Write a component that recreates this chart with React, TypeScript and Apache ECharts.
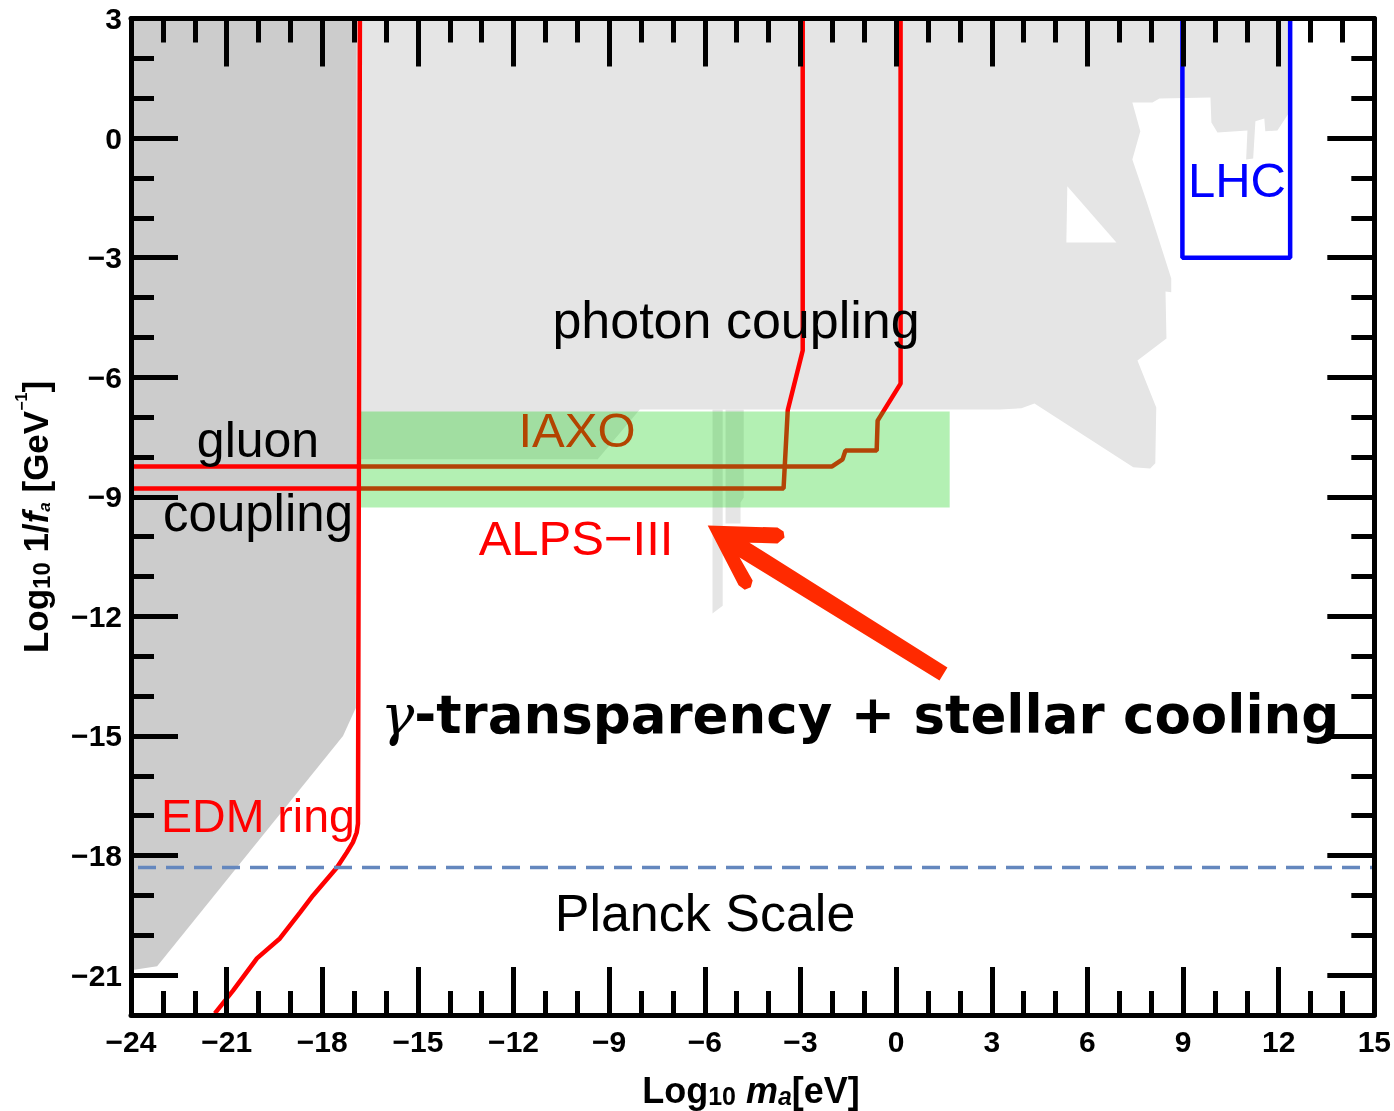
import React, { useEffect, useRef } from 'react';
import * as echarts from 'echarts';

// axis ranges and ticks
const X_MIN = -24;
const X_MAX = 15;
const Y_MIN = -22;
const Y_MAX = 3;
const yMajorTicks = [-21, -18, -15, -12, -9, -6, -3, 0, 3];
const yMinorTicks = [-22, -20, -19, -17, -16, -14, -13, -11, -10, -8, -7, -5, -4, -2, -1, 1, 2];

// excluded regions (log10 m_a, log10 1/f_a)
const photonRegion = [
  [-16.92, 3], [12.33, 3], [12.33, 0.64], [11.96, 0.19], [11.58, 0.17], [11.55, 0.49], [11.27, 0.42],
  [11.2, -0.51], [10.98, -0.54], [11.02, 0.19], [10.08, 0.14], [9.89, 0.39], [9.86, 1.02], [8.26, 0.99],
  [8.04, 0.89], [7.41, 0.89], [7.66, 0.17], [7.41, -0.54], [7.85, -1.57], [8.63, -3.52], [8.63, -3.87],
  [8.45, -3.85], [8.48, -5.03], [7.57, -5.58], [8.16, -6.76], [8.13, -8.16], [7.97, -8.29], [7.44, -8.26],
  [4.34, -6.66], [3.93, -6.78], [3.24, -6.81], [-8.04, -6.81], [-9.36, -8.06], [-16.92, -8.06],
];
const photonStripA = [[-5.76, -6.81], [-5.44, -6.81], [-5.44, -11.73], [-5.76, -11.93]];
const photonStripB = [[-5.35, -6.81], [-4.78, -6.81], [-4.78, -9.02], [-4.88, -9.14], [-4.88, -9.67], [-5.35, -9.67]];
const photonHole = [[5.37, -1.21], [6.91, -2.62], [5.34, -2.62]];
const gluonRegion = [[-24, 3], [-16.92, 3], [-16.95, -14.3], [-17.35, -15.0], [-23.18, -20.78], [-24, -20.88]];

// sensitivity curves
const alpsCurveA = [[-2.93, 3], [-2.93, -5.33], [-3.4, -6.83], [-3.53, -8.79], [-24, -8.79]];
const alpsCurveB = [[0.14, 3], [0.14, -6.16], [-0.58, -7.09], [-0.61, -7.84], [-1.59, -7.84], [-1.68, -8.06], [-2.02, -8.24], [-24, -8.24]];
const edmCurve = [
  [-16.82, 3], [-16.88, -17.2], [-16.92, -17.42], [-17.04, -17.67], [-17.23, -17.92], [-17.54, -18.3],
  [-18.29, -19.0], [-18.7, -19.43], [-19.33, -20.08], [-20.05, -20.58], [-20.8, -21.39], [-21.37, -21.96],
];
const iaxoBand = [[-16.85, -6.86], [1.68, -6.86], [1.68, -9.27], [-16.85, -9.27]];
const lhcBox = [[8.98, 3], [8.98, -3], [12.36, -3], [12.36, 3]];
const planckLine = [[-23.78, -18.3], [15, -18.3]];
const arrowShape = [
  [-5.91, -9.72], [-3.72, -9.77], [-3.53, -9.87], [-3.5, -10.02], [-3.72, -10.17], [-4.6, -10.15],
  [1.61, -13.28], [1.36, -13.61], [-4.91, -10.52], [-4.5, -11.1], [-4.56, -11.27], [-4.75, -11.33], [-4.94, -11.22],
];

const SANS = 'Liberation Sans, Arial, Helvetica, sans-serif';

function polygonSeries(polys: number[][][], fill: string, z: number) {
  return {
    type: 'custom',
    z,
    silent: true,
    coordinateSystem: 'cartesian2d',
    xAxisIndex: 0,
    yAxisIndex: 0,
    data: [[polys[0][0][0], polys[0][0][1]]],
    renderItem: (_params: any, api: any) => ({
      type: 'group',
      children: polys.map((p) => ({
        type: 'polygon',
        shape: { points: p.map((pt) => api.coord(pt)) },
        style: { fill },
      })),
    }),
  };
}

function lineSeries(data: number[][], color: string, width: number, z: number, type: any = 'solid') {
  return {
    type: 'line',
    z,
    silent: true,
    data,
    showSymbol: false,
    symbol: 'none',
    lineStyle: { color, width, type },
    xAxisIndex: 0,
    yAxisIndex: 0,
  };
}

const fmt = (v: number) => (v < 0 ? '\u2212' + Math.abs(v) : String(v));

function label(text: string, x: number, y: number, size: number, fill: string) {
  return { type: 'text', x, y, z: 20, style: { text, font: `${size}px ${SANS}`, fill, align: 'center', verticalAlign: 'middle' } };
}

export default function App() {
  const ref = useRef<HTMLDivElement>(null);
  useEffect(() => {
    if (!ref.current) return;
    const chart = echarts.init(ref.current, undefined, { renderer: 'svg' });
    const axisLine = { show: true, onZero: false, lineStyle: { color: '#000', width: 5 } };
    const noLine = { show: false, onZero: false };
    const labelStyle = { fontFamily: SANS, fontWeight: 'bold', fontSize: 30, color: '#000' };
    const tickStyle = { color: '#000', width: 5 };
    const baseX = {
      type: 'value', min: X_MIN, max: X_MAX, interval: 3, z: 10,
      axisLine, splitLine: { show: false },
      axisTick: { show: true, inside: true, length: 48, lineStyle: tickStyle },
      minorTick: { show: true, splitNumber: 3, length: 24, lineStyle: tickStyle },
      minorSplitLine: { show: false },
    };
    const baseY = { type: 'value', min: Y_MIN, max: Y_MAX, z: 10, splitLine: { show: false } };
    const majorTick = { show: true, inside: true, length: 47, customValues: yMajorTicks, lineStyle: tickStyle };
    const minorTick = { show: true, inside: true, length: 23, customValues: yMinorTicks, lineStyle: tickStyle };
    const bold = (size: number, lh: number, va: string, italic = false) => ({
      fontFamily: SANS, fontWeight: 'bold', fontStyle: italic ? 'italic' : 'normal', fontSize: size, lineHeight: lh, verticalAlign: va, fill: '#000',
    });
    const option: any = {
      animation: false,
      grid: { left: 131, top: 18.5, width: 1244, height: 996.5, containLabel: false },
      xAxis: [
        { ...baseX, position: 'bottom', axisLabel: { ...labelStyle, margin: 11, formatter: fmt } },
        { ...baseX, position: 'top', axisLabel: { show: false } },
      ],
      yAxis: [
        { ...baseY, position: 'left', axisLine, axisTick: majorTick, axisLabel: { ...labelStyle, margin: 9, customValues: yMajorTicks, formatter: fmt } },
        { ...baseY, position: 'left', axisLine: noLine, axisTick: minorTick, axisLabel: { show: false } },
        { ...baseY, position: 'right', axisLine, axisTick: majorTick, axisLabel: { show: false } },
        { ...baseY, position: 'right', axisLine: noLine, axisTick: minorTick, axisLabel: { show: false } },
      ],
      series: [
        polygonSeries([photonRegion, photonStripA, photonStripB], '#e5e5e5', 1),
        polygonSeries([photonHole], '#ffffff', 2),
        polygonSeries([gluonRegion], '#cccccc', 2),
        lineSeries(alpsCurveA, '#ff0000', 4.5, 3),
        lineSeries(alpsCurveB, '#ff0000', 4.5, 3),
        polygonSeries([iaxoBand], 'rgba(21,209,21,0.325)', 4),
        lineSeries(edmCurve, '#ff0000', 4.5, 5),
        lineSeries(lhcBox, '#0000ff', 4.5, 5),
        lineSeries(planckLine, '#6487be', 3.5, 5, [18, 10]),
        polygonSeries([arrowShape], '#ff2a00', 6),
      ],
      graphic: [
        label('photon coupling', 736, 320, 52, '#000'),
        label('gluon', 258, 440, 50, '#000'),
        label('coupling', 258, 513, 51, '#000'),
        label('IAXO', 577, 430, 49, '#b34400'),
        label('ALPS\u2212III', 576, 538, 49, '#ff0000'),
        label('EDM ring', 258, 816, 46.5, '#ff0000'),
        label('LHC', 1237, 180, 49, '#0000ff'),
        label('Planck Scale', 705, 913, 52, '#000'),
        {
          type: 'text', x: 860, y: 714, z: 20,
          style: {
            text: '{g|\u03b3}{b|-transparency + stellar cooling}', align: 'center', verticalAlign: 'middle',
            rich: {
              g: { fontFamily: 'DejaVu Serif', fontStyle: 'italic', fontSize: 56, fill: '#000', lineHeight: 64 },
              b: { fontFamily: 'DejaVu Sans', fontWeight: 'bold', fontSize: 53, fill: '#000', lineHeight: 64 },
            },
          },
        },
        {
          type: 'text', x: 751, y: 1088, z: 20,
          style: {
            text: '{b|Log}{s|10}{b| }{i|m}{si|a}{b|[eV]}', align: 'center', verticalAlign: 'middle',
            rich: {
              b: bold(36, 40, 'bottom'),
              i: bold(36, 40, 'bottom', true),
              s: bold(25, 20, 'bottom'),
              si: bold(25, 20, 'bottom', true),
            },
          },
        },
        {
          type: 'text', x: 33, y: 517, z: 20, rotation: Math.PI / 2,
          style: {
            text: '{b|Log}{s|10}{b| 1/}{i|f}{si|a}{b| [GeV}{sup|\u22121}{b|]}', align: 'center', verticalAlign: 'middle',
            rich: {
              b: bold(35, 40, 'bottom'),
              i: bold(35, 40, 'bottom', true),
              s: bold(24, 20, 'bottom'),
              si: bold(17, 18, 'bottom', true),
              sup: bold(16, 16, 'top'),
            },
          },
        },
      ],
    };
    chart.setOption(option);
    return () => chart.dispose();
  }, []);
  return <div ref={ref} style={{ position: 'fixed', left: 0, top: 0, width: 1394, height: 1111 }} />;
}
